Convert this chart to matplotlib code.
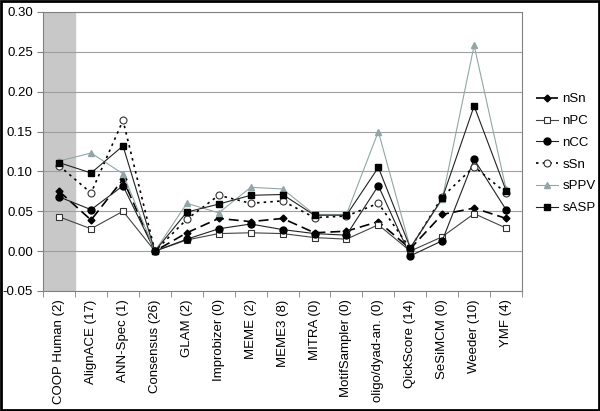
import matplotlib.pyplot as plt
from matplotlib.patches import Rectangle

plt.rcParams['font.family'] = ['Liberation Sans', 'DejaVu Sans']

# === Data ===
tools = ["COOP Human (2)", "AlignACE (17)", "ANN-Spec (1)", "Consensus (26)",
         "GLAM (2)", "Improbizer (0)", "MEME (2)", "MEME3 (8)", "MITRA (0)",
         "MotifSampler (0)", "oligo/dyad-an. (0)", "QickScore (14)",
         "SeSiMCM (0)", "Weeder (10)", "YMF (4)"]

nSn = [0.075, 0.039, 0.090, 0.000, 0.023, 0.041, 0.037, 0.041, 0.023, 0.025, 0.037, 0.003, 0.046, 0.054, 0.041]
nPC = [0.043, 0.028, 0.050, 0.000, 0.014, 0.022, 0.023, 0.022, 0.017, 0.015, 0.033, 0.000, 0.018, 0.047, 0.029]
nCC = [0.068, 0.052, 0.082, 0.000, 0.015, 0.028, 0.034, 0.027, 0.022, 0.020, 0.082, -0.006, 0.013, 0.115, 0.052]
sSn = [0.107, 0.073, 0.164, 0.000, 0.040, 0.070, 0.060, 0.063, 0.042, 0.044, 0.060, 0.003, 0.068, 0.106, 0.073]
sPPV = [0.113, 0.123, 0.097, 0.000, 0.060, 0.048, 0.080, 0.078, 0.046, 0.046, 0.150, 0.004, 0.065, 0.258, 0.078]
sASP = [0.111, 0.098, 0.132, 0.000, 0.049, 0.059, 0.070, 0.071, 0.045, 0.045, 0.105, 0.004, 0.066, 0.182, 0.076]

x = list(range(len(tools)))

fig = plt.figure(figsize=(6.0, 4.11), dpi=100)
ax = fig.add_axes([0.072, 0.292, 0.798, 0.679])

ax.axvspan(-0.5, 0.5, color="#c8c8c8", zorder=0)

ax.plot(x, nSn, color="black", lw=1.2, ls=(0, (6, 3)), marker="D", ms=3.5,
        mfc="black", mec="black", label="nSn", zorder=3)
ax.plot(x, nPC, color="#444444", lw=0.8, marker="s", ms=5,
        mfc="white", mec="#333333", mew=0.8, label="nPC", zorder=3)
ax.plot(x, nCC, color="#222222", lw=0.8, marker="o", ms=5,
        mfc="black", mec="black", label="nCC", zorder=3)
ax.plot(x, sSn, color="black", lw=1.2, ls=(0, (1.5, 2.5)), marker="o", ms=5,
        mfc="white", mec="#333333", mew=0.8, label="sSn", zorder=3)
ax.plot(x, sPPV, color="#93a6a6", lw=0.8, marker="^", ms=5,
        mfc="#93a6a6", mec="#93a6a6", label="sPPV", zorder=3)
ax.plot(x, sASP, color="#222222", lw=0.8, marker="s", ms=4.5,
        mfc="black", mec="black", label="sASP", zorder=3)

ax.set_xlim(-0.5, len(tools) - 0.5)
ax.set_ylim(-0.05, 0.30)
ax.set_yticks([-0.05, 0.0, 0.05, 0.10, 0.15, 0.20, 0.25, 0.30])
ax.set_yticklabels(["-0.05", "0.00", "0.05", "0.10", "0.15", "0.20", "0.25", "0.30"])
ax.yaxis.grid(True, color="#a0a0a0", lw=0.8)
ax.set_axisbelow(True)

ax.set_xticks(x)
ax.set_xticklabels(tools, rotation=90, fontsize=9.5)
ax.set_xticks([i - 0.5 for i in range(len(tools) + 1)], minor=True)
ax.tick_params(axis="x", which="major", length=0, pad=6)
ax.tick_params(axis="x", which="minor", length=4, color="#808080")
ax.tick_params(axis="y", length=4, color="#808080", labelsize=9.5)

for s in ax.spines.values():
    s.set_color("#808080")
    s.set_linewidth(0.8)

ax.legend(loc="center left", bbox_to_anchor=(0.893, 0.626), bbox_transform=fig.transFigure,
          frameon=False, fontsize=9.5, handlelength=1.7, labelspacing=0.72,
          handletextpad=0.3, borderpad=0, borderaxespad=0)

fig.patches.append(Rectangle((0.002, 0.003), 0.996, 0.994, transform=fig.transFigure,
                             fill=False, edgecolor="black", lw=2))

fig.savefig("out.png", dpi=100)
